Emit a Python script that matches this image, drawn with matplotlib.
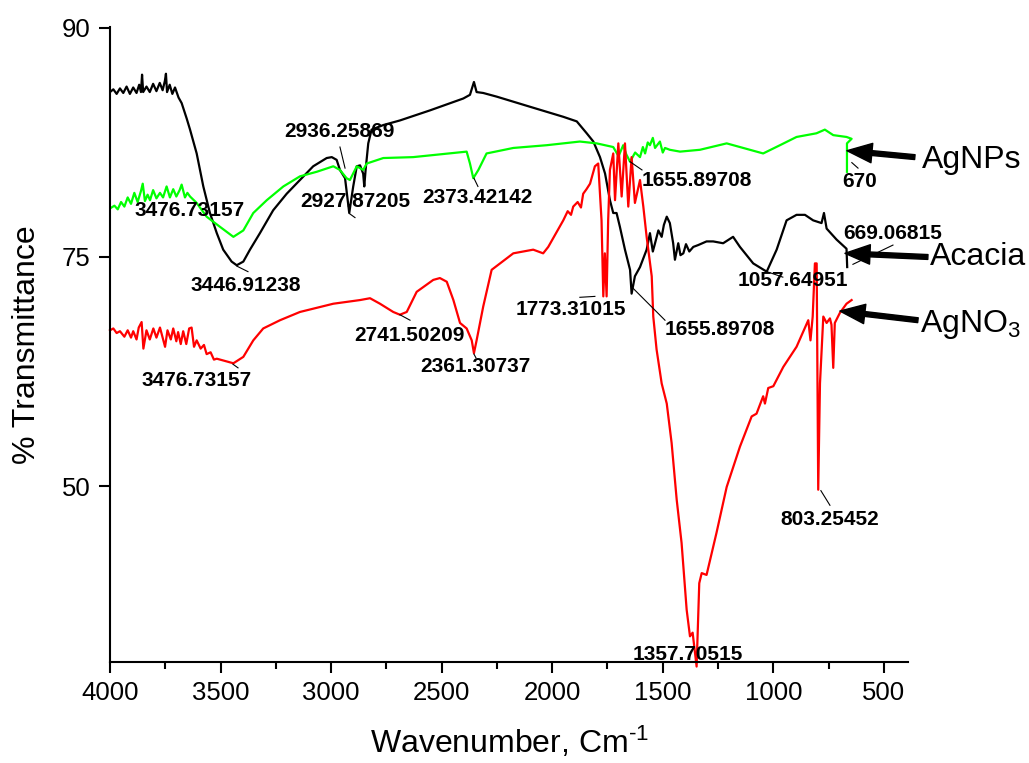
import matplotlib
matplotlib.use("Agg")
import matplotlib.pyplot as plt

plt.rcParams['font.family'] = ['Liberation Sans', 'DejaVu Sans']
plt.rcParams['mathtext.default'] = 'regular'

# ---------------- data ----------------
acacia_wn = [4000, 3985, 3970, 3955, 3940, 3925, 3910, 3895, 3880, 3868, 3860, 3855, 3850,
             3835, 3820, 3805, 3790, 3775, 3762, 3752, 3747, 3742, 3730, 3718, 3706, 3690,
             3676, 3653, 3638, 3608,
             3578, 3548, 3517, 3488, 3450, 3427, 3397, 3367, 3322, 3262, 3201, 3141, 3081,
             3020, 2997, 2975, 2960, 2937, 2918, 2900, 2884, 2869, 2855, 2850, 2844, 2832,
             2817, 2764, 2689, 2553, 2402, 2372, 2354, 2342, 2312, 2251, 2101, 1950, 1889,
             1844, 1814, 1784, 1761, 1739, 1724, 1709, 1694, 1671, 1648, 1641, 1626, 1603,
             1573, 1558, 1545, 1535, 1520, 1505, 1495, 1482, 1468, 1453, 1445, 1430, 1420,
             1407, 1395, 1380, 1362, 1340, 1302,
             1272, 1227, 1182, 1151, 1091, 1030, 985, 940, 895, 857, 820, 782, 771, 759,
             714, 669, 666]
acacia_t = [93.0, 93.3, 92.8, 93.4, 92.9, 93.6, 92.8, 93.5, 92.9, 93.8, 93.0, 94.9, 93.0,
            93.6, 93.0, 93.9, 93.1, 94.0, 93.2, 94.2, 95.0, 93.0, 93.8, 92.8, 93.5, 92.4,
            91.8, 90.1, 88.9, 86.3,
            82.7, 79.8, 77.6, 75.8, 74.5, 74.1, 74.5, 75.8, 77.6, 80.1, 81.9, 83.4, 84.9,
            85.8, 85.9, 85.6, 84.5, 83.6, 79.8, 82.7, 84.9, 85.0, 84.1, 82.7, 84.5, 87.4,
            88.9, 89.4, 89.9, 91.0, 92.3, 92.7, 94.1, 93.0, 92.9, 92.5, 91.4, 90.3, 89.8,
            88.5, 87.6, 85.9, 84.1, 81.2, 79.8, 79.8, 78.3, 75.8, 73.6, 71.0, 72.9, 73.9,
            75.8, 77.6, 75.6, 76.5, 77.9, 77.2, 78.5, 79.4, 78.7, 76.5, 74.7, 76.5, 75.2,
            75.4, 76.4, 75.6, 76.1, 76.3, 76.7,
            76.7, 76.5, 77.2, 76.1, 74.3, 73.4, 75.8, 79.0, 79.6, 79.6, 79.0, 78.7, 79.8, 78.1,
            76.9, 75.9, 73.9]

agnps_wn = [4000, 3980, 3965, 3950, 3935, 3920, 3905, 3890, 3875, 3860, 3852, 3842, 3830,
            3819, 3805, 3790, 3774, 3760, 3744, 3729, 3714, 3700, 3685, 3676, 3661, 3650,
            3638, 3608,
            3563, 3503, 3442, 3397, 3352, 3291, 3216, 3141, 3065, 2990, 2960, 2930, 2915,
            2884, 2855, 2839, 2764, 2629, 2387, 2372, 2357, 2334, 2297, 2176, 2025, 1875,
            1799, 1724, 1700, 1679, 1665, 1648, 1625, 1603, 1590, 1580, 1568, 1558, 1545,
            1535, 1513, 1500, 1490, 1468,
            1422, 1332, 1211, 1136, 1046, 970, 895, 805, 767, 729, 669, 646, 667, 667]
agnps_t = [80.3, 80.6, 80.2, 81.0, 80.5, 81.5, 80.8, 82.0, 81.0, 82.2, 83.0, 81.1, 81.8,
           81.2, 82.3, 81.4, 82.0, 81.5, 82.7, 81.5, 82.4, 81.6, 82.3, 82.9, 81.5, 82.0,
           81.6, 80.9,
           79.4, 78.3, 77.2, 77.9, 79.8, 81.2, 82.7, 83.8, 84.3, 84.9, 84.5, 83.6, 83.4,
           84.9, 84.5, 85.2, 85.8, 85.9, 86.5, 85.2, 83.6, 84.5, 86.3, 86.9, 87.2, 87.6,
           87.4, 87.0, 86.0, 87.2, 86.2, 85.4, 86.4, 85.9, 87.0, 86.3, 87.5, 87.2, 88.0,
           86.9, 87.6, 86.4, 86.9, 86.7,
           86.5, 86.7, 87.4, 86.9, 86.3, 87.2, 88.1, 88.5, 88.9, 88.3, 88.1, 87.9, 87.4, 84.3]

agno3_wn = [4000, 3985, 3970, 3955, 3935, 3920, 3905, 3895, 3880, 3870, 3857, 3849, 3835,
            3820, 3804, 3790, 3774, 3760, 3751, 3740, 3725, 3714, 3700, 3692, 3680, 3669,
            3655, 3642, 3631, 3620, 3608, 3590, 3575, 3563, 3545, 3530,
            3517, 3472, 3442, 3397, 3352, 3307, 3231, 3141, 2990, 2869, 2824, 2779, 2719,
            2689, 2658, 2613, 2538, 2508, 2477, 2447, 2417, 2387, 2364, 2354, 2342, 2312,
            2274, 2236, 2176, 2086, 2041, 2018, 1950, 1930, 1915, 1905, 1885, 1870, 1860,
            1845, 1829, 1807, 1792, 1777,
            1769, 1762, 1754, 1747, 1739, 1724, 1716, 1701, 1686, 1671, 1656, 1641, 1626,
            1603, 1588, 1573, 1550, 1543, 1528, 1505, 1482, 1460, 1437, 1415, 1392, 1377,
            1365, 1347, 1335, 1324, 1302, 1257, 1211, 1151, 1098, 1076, 1046, 1038, 1023,
            1000, 955, 895, 842, 832, 822, 812, 804, 797, 789, 774, 759, 744, 737, 729, 722,
            699, 669, 646]
agno3_t = [67.0, 67.2, 66.7, 66.9, 66.3, 67.0, 66.2, 66.9, 66.0, 67.3, 67.9, 65.0, 67.0,
           66.0, 67.2, 66.2, 67.3, 66.0, 65.2, 67.0, 66.0, 67.2, 65.8, 66.8, 65.5, 66.9,
           65.5, 67.2, 67.3, 65.2, 65.9, 65.0, 65.4, 64.4, 64.6, 63.8,
           63.9, 63.6, 63.4, 64.1, 65.9, 67.2, 68.1, 69.0, 69.9, 70.3, 70.5, 69.9, 69.0,
           68.7, 69.0, 71.2, 72.5, 72.7, 72.3, 70.3, 67.8, 67.2, 65.9, 64.5, 65.9, 69.6,
           73.6, 74.3, 75.4, 75.8, 75.4, 76.1, 79.0, 80.0, 79.6, 80.5, 81.0, 80.4, 81.9,
           82.4, 83.0, 84.9, 85.2, 79.0,
           70.7, 75.4, 70.7, 79.0, 84.5, 86.3, 81.2, 87.4, 81.6, 87.4, 80.5, 85.9, 80.9,
           83.4, 80.5, 77.2, 72.9, 68.5, 64.9, 61.2, 59.0, 54.7, 48.5, 43.8, 36.5, 33.6,
           34.0, 30.3, 39.4, 40.5, 40.3, 44.9, 49.9, 54.3, 57.6, 57.9, 59.8, 59.0, 60.7,
           60.9, 63.0, 65.2, 68.1, 65.9, 68.5, 74.3, 74.3, 49.6, 61.2, 68.5, 67.8, 68.3, 67.6, 62.9, 67.8,
           68.9, 69.9, 70.3]

peak_labels = ["3476.73157", "3446.91238", "2936.25869", "2927.87205", "2373.42142",
               "1655.89708", "670", "669.06815", "1057.64951", "1773.31015",
               "1655.89708", "2741.50209", "2361.30737", "3476.73157", "803.25452",
               "1357.70515"]
# label centre (wavenumber, %T) and leader line endpoints
label_pos = [(3638, 80.1), (3385, 71.9), (2964, 88.7), (2892, 81.1), (2340, 81.5),
             (1345, 83.3), (608, 83.2), (459, 77.6), (911, 72.4), (1915, 69.3),
             (1241, 67.1), (2648, 66.4), (2349, 63.0), (3607, 61.5), (744, 46.3),
             (1386, 31.6)]
leaders = [None, ((3426, 74.0), (3376, 73.4)), ((2960, 87.0), (2937, 84.7)),
           ((2915, 79.7), (2892, 79.3)), ((2354, 83.6), (2336, 82.7)),
           ((1648, 85.4), (1594, 84.5)), ((645, 85.3), (617, 84.7)),
           ((640, 74.2), (459, 76.3)), ((1029, 73.4), (957, 72.8)),
           ((1875, 70.6), (1807, 70.7)), ((1635, 71.6), (1490, 68.1)),
           ((2689, 68.7), (2643, 68.1)), ((2354, 64.4), (2345, 64.0)),
           ((3444, 63.3), (3421, 62.9)), ((785, 49.5), (744, 47.9)), None]

series_names = ["AgNPs", "Acacia", "AgNO$_3$"]
arrow_heads = [(667, 86.6), (676, 75.4), (699, 69.1)]
arrow_tails = [(360, 85.9), (301, 75.0), (346, 68.1)]
name_pos = [(328, 85.6), (292, 75.0), (337, 67.6)]

# ---------------- figure ----------------
fig = plt.figure(figsize=(10.29, 7.63), dpi=100)
ax = fig.add_axes([0.1069, 0.1324, 0.7755, 0.8322])

ax.plot(acacia_wn, acacia_t, color='black', lw=1.6)
ax.plot(agnps_wn, agnps_t, color='#00ff00', lw=1.6)
ax.plot(agno3_wn, agno3_t, color='#ff0000', lw=1.6, clip_on=False)

ax.set_xlim(4000, 391)
ax.set_ylim(30.8, 100.1)
ax.set_xticks([4000, 3500, 3000, 2500, 2000, 1500, 1000, 500])
ax.set_xticks([3750, 3250, 2750, 2250, 1750, 1250, 750], minor=True)
ax.set_yticks([50, 75, 100])
ax.set_yticklabels(['50', '75', '90'])

for s in ['top', 'right']:
    ax.spines[s].set_visible(False)
for s in ['left', 'bottom']:
    ax.spines[s].set_linewidth(1.5)
ax.tick_params(axis='both', which='major', direction='out', length=8, width=1.5,
               labelsize=18.5, pad=6)
ax.tick_params(axis='x', which='minor', direction='out', length=5, width=1.5)

ax.set_xlabel('Wavenumber, Cm$^{\u20101}$', fontsize=23, labelpad=14)
ax.set_ylabel('% Transmittance', fontsize=23, labelpad=14)

for lab, pos, ld in zip(peak_labels, label_pos, leaders):
    ax.text(pos[0], pos[1], lab, fontsize=15, fontweight='bold', ha='center',
            va='center', clip_on=False, zorder=5)
    if ld is not None:
        ax.plot([ld[0][0], ld[1][0]], [ld[0][1], ld[1][1]], color='black', lw=0.8,
                clip_on=False)

for name, hd, tl, npos in zip(series_names, arrow_heads, arrow_tails, name_pos):
    ax.annotate('', xy=hd, xytext=tl, xycoords='data', textcoords='data',
                arrowprops=dict(arrowstyle='simple,head_length=1.8,head_width=1.4,tail_width=0.35',
                                color='black', shrinkA=0, shrinkB=0),
                annotation_clip=False)
    ax.text(npos[0], npos[1], name, fontsize=23, ha='left', va='center', clip_on=False)

fig.savefig('out.png', dpi=100)
